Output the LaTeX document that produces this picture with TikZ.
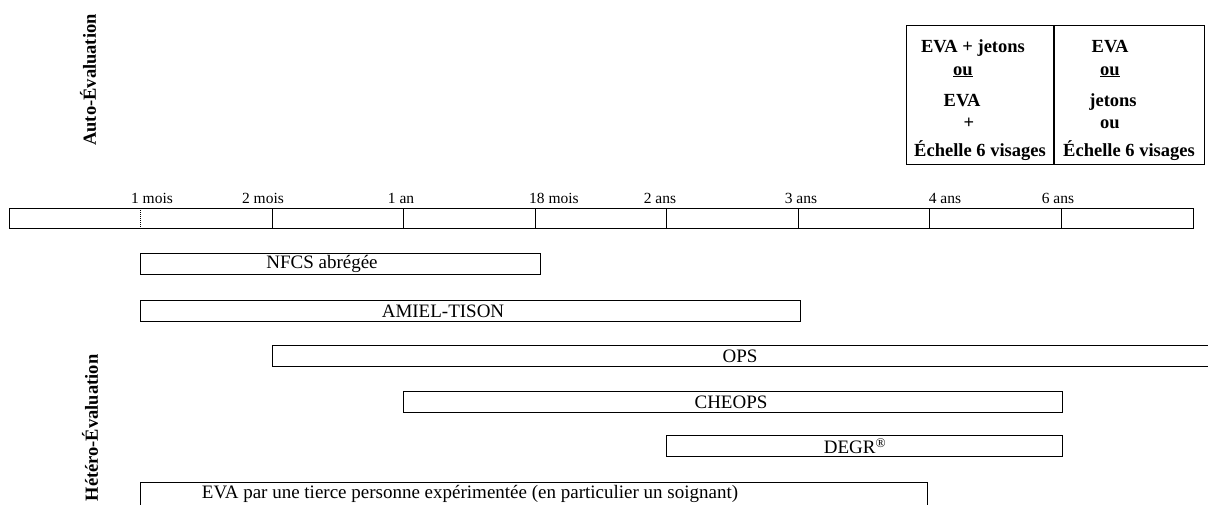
\documentclass[tikz,border=0pt]{standalone}
\usepackage{fontspec}
\setmainfont{Liberation Serif}

\newcommand*{\cellw}{131.5}
\newcommand*{\axisx}{9}

\begin{document}
\begin{tikzpicture}
[
	x=1pt, y=-1pt,
	bar/.style={draw,line width=1pt,anchor=north west,inner sep=0pt,minimum height=21pt},
	colbox/.style={draw,line width=1pt,anchor=north west,inner sep=0pt,minimum height=139pt},
	barlabel/.style={font=\fontsize{19}{22}\selectfont},
	agelabel/.style={anchor=base,font=\fontsize{15.5}{18}\selectfont},
	sidelabel/.style={rotate=90,font=\fontsize{18.5}{22}\selectfont\bfseries},
	scalelabel/.style={anchor=base,font=\fontsize{18.5}{22}\selectfont\bfseries},
]

	\clip (0,0) rectangle (1208,504);

	% side titles
	\node[sidelabel] (auto) at (88,80) {Auto-Évaluation};
	\node[sidelabel] (hetero) at (90,428) {Hétéro-Évaluation};

	% self-report scales
	\node[colbox,minimum width=147pt] (leftcol) at (906,25) {};
	\node[colbox,minimum width=150pt] (rightcol) at (leftcol.north east) {};

	\node[scalelabel] (l1) at (973,52) {EVA + jetons};
	\node[scalelabel] (l2) at (963,75) {\underline{ou}};
	\node[scalelabel] (l3) at (962,106) {EVA};
	\node[scalelabel] (l4) at (969,128) {+};
	\node[scalelabel] (l5) at (980,156) {Échelle 6 visages};

	\node[scalelabel] (r1) at (1110,52) {EVA};
	\node[scalelabel] (r2) at (1110,75) {\underline{ou}};
	\node[scalelabel] (r3) at (1113,106) {jetons};
	\node[scalelabel] (r4) at (1110,128) {ou};
	\node[scalelabel] (r5) at (1129,156) {Échelle 6 visages};

	% age axis
	\node[draw,line width=1pt,anchor=north west,inner sep=0pt,minimum width={9*\cellw},minimum height=20pt] (axis) at (\axisx,208) {};
	\draw[line width=1pt,densely dotted] ({\axisx+\cellw},208) -- ({\axisx+\cellw},228);
	\foreach \i in {2,...,8}
		\draw[line width=1pt] ({\axisx+\i*\cellw},208) -- ({\axisx+\i*\cellw},228);

	\node[agelabel] (a1) at (152,203) {1 mois};
	\node[agelabel] (a2) at (263,203) {2 mois};
	\node[agelabel] (a3) at (401,203) {1 an};
	\node[agelabel] (a4) at (554,203) {18 mois};
	\node[agelabel] (a5) at (660,203) {2 ans};
	\node[agelabel] (a6) at (801,203) {3 ans};
	\node[agelabel] (a7) at (945,203) {4 ans};
	\node[agelabel] (a8) at (1058,203) {6 ans};

	% observer scales
	\node[bar,minimum width=400pt] (nfcs) at (140,253) {};
	\node[bar,minimum width=660pt] (amiel) at (140,300) {};
	\node[bar,minimum width=950pt] (ops) at (272,345) {};
	\node[bar,minimum width=659pt] (cheops) at (403,391) {};
	\node[bar,minimum width=396pt] (degr) at (666,435) {};
	\node[bar,minimum width=787pt,minimum height=30pt] (eva) at (140,482) {};

	\node[barlabel] (nfcstxt) at (322,264) {NFCS abrégée};
	\node[barlabel] (amieltxt) at (443,311) {AMIEL-TISON};
	\node[barlabel] (opstxt) at (740,356) {OPS};
	\node[barlabel] (cheopstxt) at (731,402) {CHEOPS};
	\node[barlabel] (degrtxt) at (855,446) {DEGR\textsuperscript{®}};
	\node[barlabel] (evatxt) at (470,494) {EVA par une tierce personne expérimentée (en particulier un soignant)};

\end{tikzpicture}
\end{document}
